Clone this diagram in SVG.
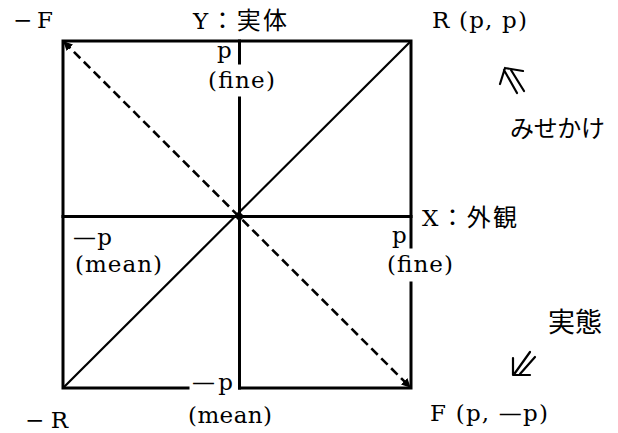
<svg xmlns="http://www.w3.org/2000/svg" width="618" height="433" viewBox="0 0 618 433">
<style>
.frame{stroke:#000;stroke-width:3;fill:none;stroke-linecap:square}
.diag{stroke:#000;stroke-width:2.2;fill:none}
.dash{stroke:#000;stroke-width:2.6;fill:none;stroke-dasharray:9 5}
.arr{stroke:#000;stroke-width:2.2;fill:none;stroke-linecap:round;stroke-linejoin:round}
text{font-family:"DejaVu Serif","Liberation Serif","Noto Sans CJK JP",serif;font-size:23px;fill:#000}
.cjk{font-family:"Noto Sans CJK JP",sans-serif;font-size:24px}
</style>
<defs>
<marker id="ah" viewBox="0 0 10 10" refX="9" refY="5" markerWidth="3.5" markerHeight="3.5" orient="auto-start-reverse" markerUnits="strokeWidth">
<path d="M0,0 L10,5 L0,10 Z" fill="#000"/>
</marker>
</defs>
<rect width="618" height="433" fill="#fff"/>
<g id="connectors">
<path class="frame" d="M63,388 V41 H411 V247 M411,283 V388 H239.5 M188,388 H63"/>
<path class="frame" d="M63,216.5 H411"/>
<path class="frame" d="M239.5,41 V63 M239.5,98 V388"/>
<path class="diag" d="M63,388 L411,41"/>
<path class="dash" d="M64,42 L410,387" marker-start="url(#ah)" marker-end="url(#ah)"/>
<circle cx="239.5" cy="216.5" r="3.5" fill="#000"/>
<path class="arr" d="M505,68 L523,71 M505,68 L500,84 M504,70 L517,93 M511,70 L524,91"/>
<path class="arr" d="M513,375 L513,358 M513,375 L530,375 M515,373 L530,352 M520,374 L535,357"/>
</g>
<g id="node-minusF"><text x="13" y="28" textLength="40">−F</text></g>
<g id="node-Y"><text x="193" y="29" textLength="94">Y<tspan class="cjk">：実体</tspan></text></g>
<g id="node-R"><text x="432" y="28" textLength="95">R (p, p)</text></g>
<g id="node-top-p"><text x="217" y="58">p</text><text x="208" y="88" textLength="67">(fine)</text></g>
<g id="node-misekake"><text class="cjk" x="510" y="137" textLength="95">みせかけ</text></g>
<g id="node-X"><text x="422" y="226" textLength="95">X<tspan class="cjk">：外観</tspan></text></g>
<g id="node-right-p"><text x="392" y="243">p</text><text x="387" y="272" textLength="66">(fine)</text></g>
<g id="node-left-p"><text x="73" y="245" textLength="39">—p</text><text x="75" y="272" textLength="87">(mean)</text></g>
<g id="node-jittai"><text class="cjk" x="548" y="332" style="font-size:27px">実態</text></g>
<g id="node-F"><text x="430" y="421" textLength="118">F (p, —p)</text></g>
<g id="node-minusR"><text x="25" y="428" textLength="43">−R</text></g>
<g id="node-bottom-p"><text x="192" y="390" textLength="41">—p</text><text x="188" y="423" textLength="84">(mean)</text></g>
</svg>
